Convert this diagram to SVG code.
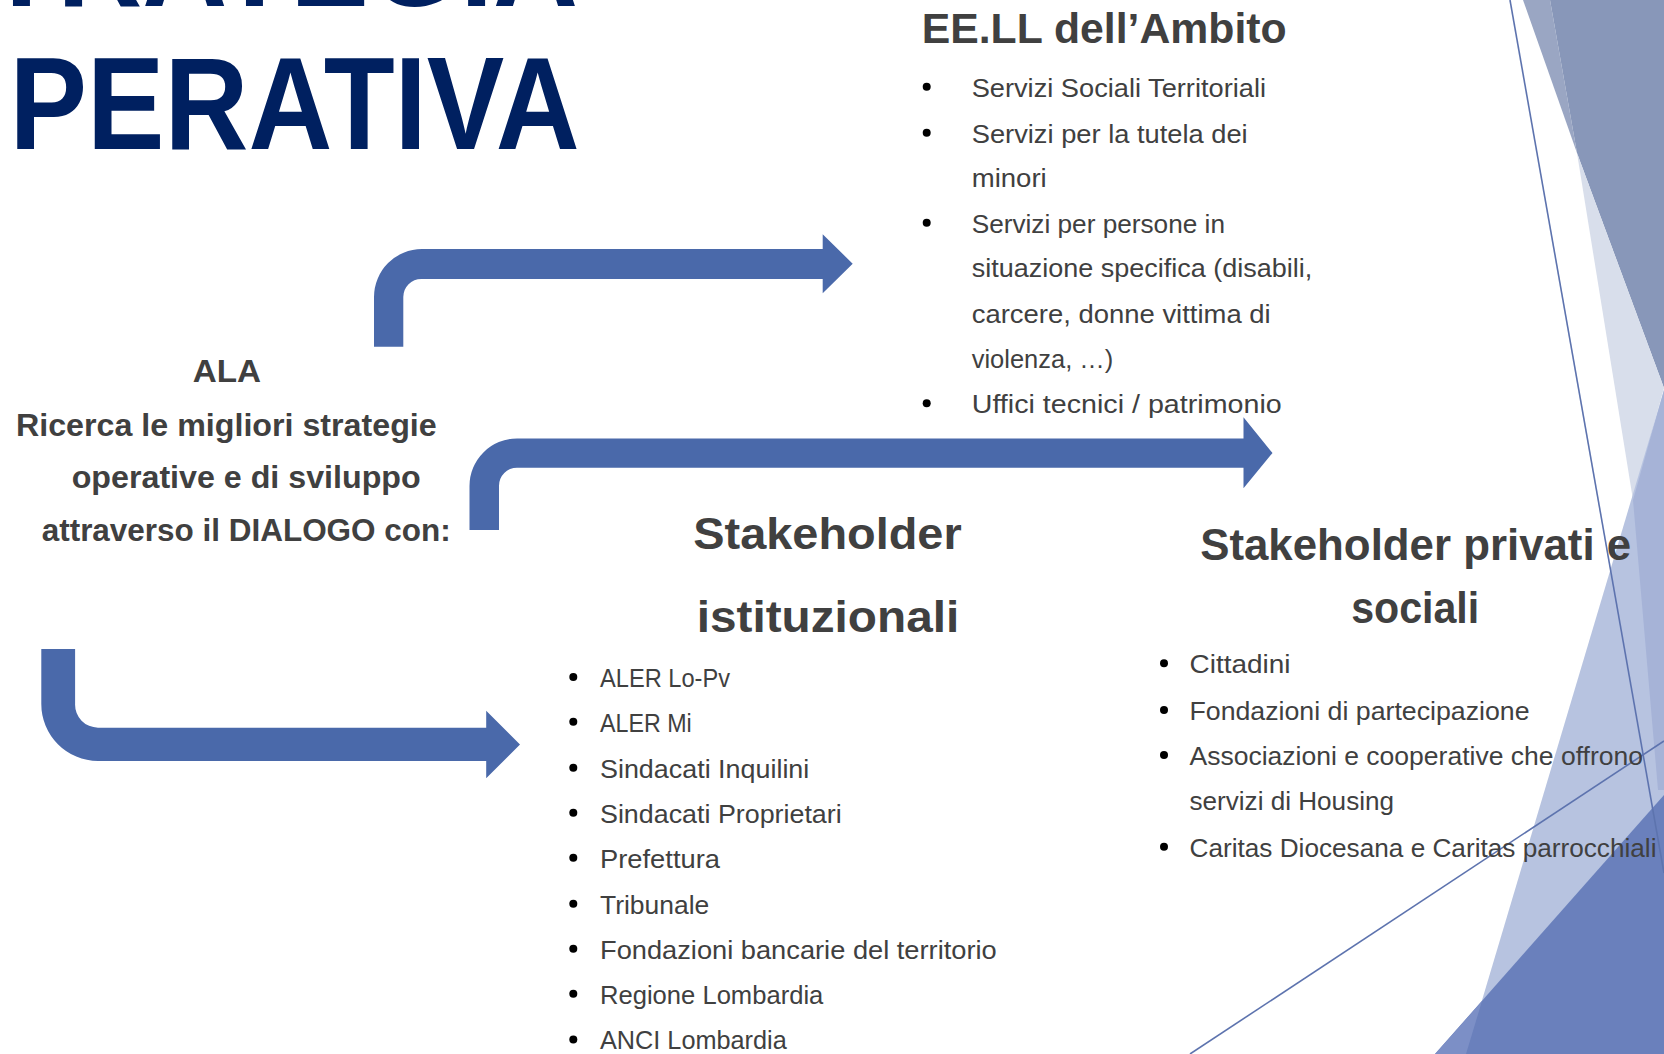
<svg xmlns="http://www.w3.org/2000/svg" width="1664" height="1054" viewBox="0 0 1664 1054">
<style>
.t{font-family:"Liberation Sans",Arial,sans-serif;fill:#404040;}
.b{font-weight:bold;}
.body{font-size:26px;}
.h{font-size:45px;font-weight:bold;}
.ala{font-size:32px;font-weight:bold;}
.title{font-family:"Liberation Sans",Arial,sans-serif;font-weight:bold;font-size:132px;fill:#002060;}
.bul{fill:#000;}
.arrow{fill:#4A69AA;}
.thin{stroke:#5D73AE;stroke-width:1.6;fill:none;}
</style>
<rect width="1664" height="1054" fill="#ffffff"/>
<g id="background">
<polygon points="1523,0 1550,0 1577,153" fill="#9AA6C3"/>
<polygon points="1550,0 1664,0 1664,388 1577,153" fill="#8897B9"/>
<polygon points="1577,153 1664,388 1633,500" fill="#D8DEEB"/>
<polygon points="1664,390 1664,1054 1466,1054" fill="#B7C3E0"/>
<polygon points="1664,390 1633,500 1658,790 1664,790" fill="#A6B3D7"/>
<polygon points="1664,795 1664,1054 1435,1054" fill="#6A80BC"/>
<polygon points="1482,1001 1466,1054 1435,1054" fill="#7C8FC6"/>
<line class="thin" x1="1510" y1="0" x2="1664" y2="873"/>
<line class="thin" x1="1190" y1="1054" x2="1664" y2="741"/>
</g>
<g id="title">
<text class="title" x="578" y="6" text-anchor="end" textLength="671" lengthAdjust="spacingAndGlyphs">STRATEGIA</text>
<text class="title" x="9.6" y="149" textLength="570" lengthAdjust="spacingAndGlyphs">PERATIVA</text>
</g>
<g id="ala">
<text class="t ala" x="192.7" y="381.7" textLength="68.3" lengthAdjust="spacingAndGlyphs">ALA</text>
<text class="t ala" x="16" y="436" textLength="420.7" lengthAdjust="spacingAndGlyphs">Ricerca le migliori strategie</text>
<text class="t ala" x="71.7" y="488.3" textLength="349" lengthAdjust="spacingAndGlyphs">operative e di sviluppo</text>
<text class="t ala" x="41.7" y="540.7" textLength="409" lengthAdjust="spacingAndGlyphs">attraverso il DIALOGO con:</text>
</g>
<g id="eell">
<text class="t b" style="font-size:42px" x="921.7" y="43.3" textLength="365" lengthAdjust="spacingAndGlyphs">EE.LL dell’Ambito</text>
<circle class="bul" cx="926.7" cy="86.7" r="4"/>
<circle class="bul" cx="926.7" cy="132.7" r="4"/>
<circle class="bul" cx="926.7" cy="222.7" r="4"/>
<circle class="bul" cx="926.7" cy="403.3" r="4"/>
<text class="t body" x="971.7" y="96.7" textLength="294.3" lengthAdjust="spacingAndGlyphs">Servizi Sociali Territoriali</text>
<text class="t body" x="971.7" y="142.7" textLength="276" lengthAdjust="spacingAndGlyphs">Servizi per la tutela dei</text>
<text class="t body" x="971.7" y="186.7" textLength="75" lengthAdjust="spacingAndGlyphs">minori</text>
<text class="t body" x="971.7" y="232.7" textLength="253.3" lengthAdjust="spacingAndGlyphs">Servizi per persone in</text>
<text class="t body" x="971.7" y="277.3" textLength="340.6" lengthAdjust="spacingAndGlyphs">situazione specifica (disabili,</text>
<text class="t body" x="971.7" y="323.3" textLength="299" lengthAdjust="spacingAndGlyphs">carcere, donne vittima di</text>
<text class="t body" x="971.7" y="368.3" textLength="141.6" lengthAdjust="spacingAndGlyphs">violenza, …)</text>
<text class="t body" x="971.7" y="413.3" textLength="310" lengthAdjust="spacingAndGlyphs">Uffici tecnici / patrimonio</text>
</g>
<g id="stakeholder-istituzionali">
<text class="t h" x="693.3" y="549.4" textLength="268.4" lengthAdjust="spacingAndGlyphs">Stakeholder</text>
<text class="t h" x="696.7" y="632" textLength="262.6" lengthAdjust="spacingAndGlyphs">istituzionali</text>
<circle class="bul" cx="573.3" cy="677.1" r="4"/>
<circle class="bul" cx="573.3" cy="721.7" r="4"/>
<circle class="bul" cx="573.3" cy="767.8" r="4"/>
<circle class="bul" cx="573.3" cy="812.7" r="4"/>
<circle class="bul" cx="573.3" cy="857.7" r="4"/>
<circle class="bul" cx="573.3" cy="903.7" r="4"/>
<circle class="bul" cx="573.3" cy="948.7" r="4"/>
<circle class="bul" cx="573.3" cy="993.7" r="4"/>
<circle class="bul" cx="573.3" cy="1039.4" r="4"/>
<text class="t body" x="600" y="687.1" textLength="130" lengthAdjust="spacingAndGlyphs">ALER Lo-Pv</text>
<text class="t body" x="600" y="731.7" textLength="91.7" lengthAdjust="spacingAndGlyphs">ALER Mi</text>
<text class="t body" x="600" y="777.8" textLength="209.3" lengthAdjust="spacingAndGlyphs">Sindacati Inquilini</text>
<text class="t body" x="600" y="822.7" textLength="241.7" lengthAdjust="spacingAndGlyphs">Sindacati Proprietari</text>
<text class="t body" x="600" y="867.7" textLength="120" lengthAdjust="spacingAndGlyphs">Prefettura</text>
<text class="t body" x="600" y="913.7" textLength="109.3" lengthAdjust="spacingAndGlyphs">Tribunale</text>
<text class="t body" x="600" y="958.7" textLength="396.7" lengthAdjust="spacingAndGlyphs">Fondazioni bancarie del territorio</text>
<text class="t body" x="600" y="1003.7" textLength="223.3" lengthAdjust="spacingAndGlyphs">Regione Lombardia</text>
<text class="t body" x="600" y="1049.4" textLength="186.7" lengthAdjust="spacingAndGlyphs">ANCI Lombardia</text>
</g>
<g id="stakeholder-privati">
<text class="t h" x="1200.2" y="560" textLength="431" lengthAdjust="spacingAndGlyphs">Stakeholder privati e</text>
<text class="t h" x="1351.2" y="622.7" textLength="128" lengthAdjust="spacingAndGlyphs">sociali</text>
<circle class="bul" cx="1164" cy="663.3" r="4"/>
<circle class="bul" cx="1164" cy="710" r="4"/>
<circle class="bul" cx="1164" cy="755" r="4"/>
<circle class="bul" cx="1164" cy="846.7" r="4"/>
<text class="t body" x="1189.5" y="673.3" textLength="101" lengthAdjust="spacingAndGlyphs">Cittadini</text>
<text class="t body" x="1189.5" y="720" textLength="340" lengthAdjust="spacingAndGlyphs">Fondazioni di partecipazione</text>
<text class="t body" x="1189.5" y="765" textLength="453.5" lengthAdjust="spacingAndGlyphs">Associazioni e cooperative che offrono</text>
<text class="t body" x="1189.5" y="810" textLength="204.5" lengthAdjust="spacingAndGlyphs">servizi di Housing</text>
<text class="t body" x="1189.5" y="856.7" textLength="467" lengthAdjust="spacingAndGlyphs">Caritas Diocesana e Caritas parrocchiali</text>
</g>
<g id="connectors">
<path id="arrow-eell" class="arrow" d="M374,346.7 L374,297 A48,48 0 0 1 422,249 L822.7,249 L822.7,234.3 L852.7,263.7 L822.7,293.3 L822.7,279 L421.3,279 A18,18 0 0 0 403.3,297 L403.3,346.7 Z"/>
<path id="arrow-privati" class="arrow" d="M469.5,530 L469.5,486 A47.5,47.5 0 0 1 517,438.5 L1243.5,438.5 L1243.5,417.3 L1272.5,453 L1243.5,488.3 L1243.5,467.7 L517,467.7 A18,18 0 0 0 499,485.7 L499,530 Z"/>
<path id="arrow-istituzionali" class="arrow" d="M41.3,649 L75.1,649 L75.1,704 A23,23 0 0 0 98,727.7 L486.2,727.7 L486.2,710.7 L520,744.5 L486.2,778.3 L486.2,761 L98,761 A57,57 0 0 1 41.3,704 Z"/>
</g>
</svg>
